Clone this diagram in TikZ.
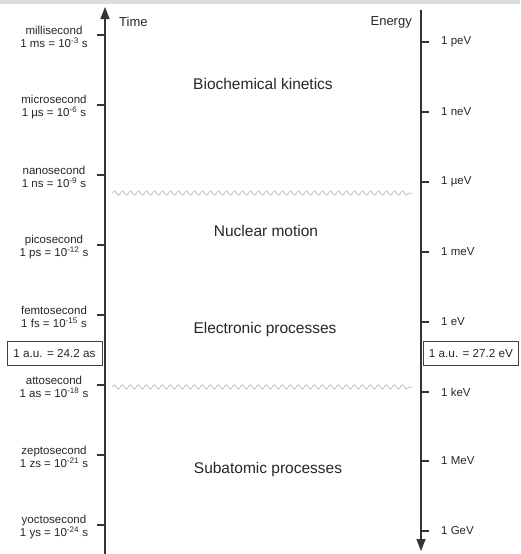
\documentclass[tikz,border=0pt]{standalone}
\usepackage{fontspec}
\setmainfont{Liberation Sans}
\usetikzlibrary{arrows.meta,decorations.pathmorphing}
\definecolor{axisc}{HTML}{333333}
\definecolor{wavec}{HTML}{C8C8C8}
\definecolor{bandc}{HTML}{D8E0DE}
\tikzset{
  axisline/.style={draw=axisc,line width=1.4pt},
  tickline/.style={draw=axisc,line width=1.2pt},
  leftlab/.style={font=\fontsize{11.5}{13}\selectfont,align=center,text=black!85,inner sep=0pt},
  rightlab/.style={font=\fontsize{11.5}{13}\selectfont,anchor=west,text=black!85,inner sep=0pt},
  region/.style={font=\fontsize{15.5}{18}\selectfont,text=black!85},
  aubox/.style={draw=black!75,line width=0.8pt,font=\fontsize{11.7}{13}\selectfont,minimum height=24pt,minimum width=95pt,inner xsep=2pt,text=black!85},
  wave/.style={draw=wavec,line width=1pt,decorate,decoration={snake,segment length=8pt,amplitude=2pt}},
  axtitle/.style={font=\fontsize{13}{15}\selectfont,text=black!85}
}
\begin{document}
\begin{tikzpicture}[x=1pt,y=-1pt]
\useasboundingbox (0,0) rectangle (520,554);
\fill[bandc] (0,0) rectangle (520,4);
% axes
\coordinate (tb) at (105,554);
\coordinate (tt) at (105,7);
\coordinate (et) at (421,10);
\coordinate (eb) at (421,551);
\draw[axisline,-{Triangle[length=12pt,width=9pt]}] (tb) -- (tt);
\draw[axisline,-{Triangle[length=12pt,width=9pt]}] (et) -- (eb);
\node[axtitle,anchor=west,inner xsep=0pt] (time) at (119,22) {Time};
\node[axtitle,anchor=east,inner xsep=0pt] (energy) at (412,22) {Energy};
% left ticks
\foreach \n/\y/\a/\b in {ms/35/millisecond/{1 ms = 10\textsuperscript{-3} s},
  us/105/microsecond/{1 µs = 10\textsuperscript{-6} s},
  ns/175/nanosecond/{1 ns = 10\textsuperscript{-9} s},
  ps/245/picosecond/{1 ps = 10\textsuperscript{-12} s},
  fs/315/femtosecond/{1 fs = 10\textsuperscript{-15} s},
  as/385/attosecond/{1 as = 10\textsuperscript{-18} s},
  zs/455/zeptosecond/{1 zs = 10\textsuperscript{-21} s},
  ys/525/yoctosecond/{1 ys = 10\textsuperscript{-24} s}}{
  \coordinate (t\n) at (105,\y);
  \coordinate (t\n l) at (97,\y);
  \draw[tickline] (t\n) -- (t\n l);
  \node[leftlab] (l\n) at (54,\y+2) {\a\\\b};
}
% right ticks
\foreach \n/\y/\a in {pev/42/1 peV,nev/112/1 neV,uev/182/1 µeV,mev/252/1 meV,
  ev/322/1 eV,kev/392/1 keV,Mev/461/1 MeV,gev/531/1 GeV}{
  \coordinate (e\n) at (421,\y);
  \coordinate (e\n r) at (429,\y);
  \draw[tickline] (e\n) -- (e\n r);
  \node[rightlab] (r\n) at (441,\y) {\a};
}
% a.u. boxes
\node[aubox] (aul) at (54.5,353.5) {1 a.u. = 24.2 as};
\node[aubox] (aur) at (471,353.5) {1 a.u. = 27.2 eV};
% wavy separators
\coordinate (w1a) at (112,193);
\coordinate (w1b) at (412,193);
\coordinate (w2a) at (112,387);
\coordinate (w2b) at (412,387);
\draw[wave] (w1a) -- (w1b);
\draw[wave] (w2a) -- (w2b);
% regions
\node[region] (bio) at (263,84) {Biochemical kinetics};
\node[region] (nuc) at (266,231) {Nuclear motion};
\node[region] (ele) at (265,329) {Electronic processes};
\node[region] (sub) at (268,469) {Subatomic processes};
\end{tikzpicture}
\end{document}
